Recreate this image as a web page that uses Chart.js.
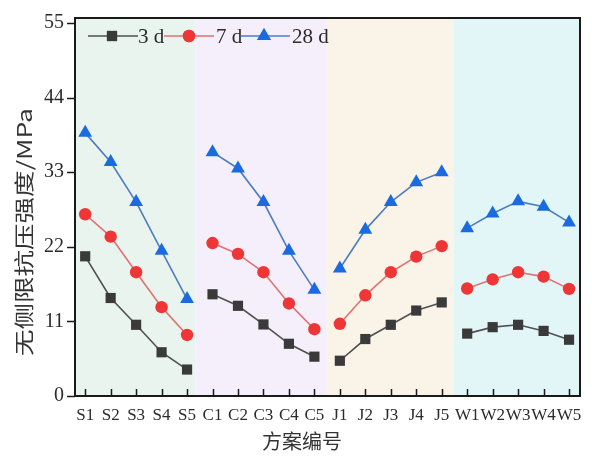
<!DOCTYPE html>
<html>
<head>
<meta charset="utf-8">
<script src="https://cdn.jsdelivr.net/npm/chart.js@4.4.1/dist/chart.umd.min.js"></script>
<style>
  html, body { margin: 0; padding: 0; background: #ffffff; }
  #wrap { width: 592px; height: 459px; position: relative; }
</style>
</head>
<body>
<div id="wrap"><canvas id="c" width="592" height="459"></canvas></div>
<script>
// ---- data ----
const categories = ['S1','S2','S3','S4','S5','C1','C2','C3','C4','C5','J1','J2','J3','J4','J5','W1','W2','W3','W4','W5'];
const groups = ['S','C','J','W'];
const seriesNames = ['3 d', '7 d', '28 d'];
const values3d  = [20.6, 14.45, 10.5, 6.45, 3.9,  15.0, 13.3, 10.55, 7.7, 5.8,  5.2, 8.4, 10.5, 12.6, 13.8,  9.2, 10.15, 10.5, 9.6, 8.3];
const values7d  = [26.8, 23.5, 18.25, 13.1, 9.0,  22.55, 20.95, 18.25, 13.65, 9.85,  10.65, 14.85, 18.25, 20.55, 22.1,  15.85, 17.2, 18.25, 17.6, 15.8];
const values28d = [38.8, 34.5, 28.6, 21.4, 14.3,  35.95, 33.55, 28.6, 21.4, 15.65,  18.8, 24.5, 28.6, 31.5, 33.0,  24.75, 26.9, 28.7, 27.9, 25.6];
const yTicks = [0, 11, 22, 33, 44, 55];
const xTitle = '方案编号';
const yTitle = '无侧限抗压强度/MPa';

// ---- styling ----
const PLOT = { left: 75, right: 580, top: 18, bottom: 396 };
const bandEdges = [-0.4, 4.32, 9.49, 14.46, 19.43];
const bandColors = ['rgb(234,244,238)', 'rgb(244,239,250)', 'rgb(250,243,231)', 'rgb(226,246,248)'];
const serif = '"Liberation Serif", "Times New Roman", serif';
const textColor = '#2b2b2b';

const styles = [
  { line: '#505050', point: '#3a3a3a', style: 'rect', r: 7.2 },
  { line: '#e07272', point: '#ee3636', style: 'circle', r: 6.2 },
  { line: '#4d7dc0', point: '#1a6be0', style: 'triangle', r: 8 }
];

function groupOf(i) { return groups.indexOf(categories[i][0]); }
function toPoints(arr) { return arr.map((v, i) => ({ x: i, y: v })); }

const datasets = [values3d, values7d, values28d].map((vals, k) => ({
  label: seriesNames[k],
  data: toPoints(vals),
  borderColor: styles[k].line,
  borderWidth: 1.6,
  backgroundColor: styles[k].point,
  pointBackgroundColor: styles[k].point,
  pointBorderColor: styles[k].point,
  pointBorderWidth: 0,
  pointStyle: styles[k].style,
  pointRadius: styles[k].r,
  pointHoverRadius: styles[k].r,
  tension: 0,
  segment: {
    borderColor: ctx => groupOf(ctx.p0DataIndex) === groupOf(ctx.p1DataIndex) ? styles[k].line : 'rgba(0,0,0,0)'
  }
}));

const decor = {
  id: 'decor',
  beforeDatasetsDraw(chart) {
    const { ctx, scales: { x } } = chart;
    ctx.save();
    for (let g = 0; g < bandColors.length; g++) {
      const x0 = Math.max(PLOT.left, x.getPixelForValue(bandEdges[g]));
      const x1 = Math.min(PLOT.right, x.getPixelForValue(bandEdges[g + 1]));
      ctx.fillStyle = bandColors[g];
      ctx.fillRect(x0, PLOT.top, x1 - x0, PLOT.bottom - PLOT.top);
    }
    ctx.restore();
  },
  afterDatasetsDraw(chart) {
    const { ctx, scales: { x, y } } = chart;
    ctx.save();
    // frame
    ctx.strokeStyle = '#1a1a1a';
    ctx.lineWidth = 2;
    ctx.strokeRect(PLOT.left, PLOT.top, PLOT.right - PLOT.left, PLOT.bottom - PLOT.top);
    // inward x ticks
    ctx.lineWidth = 1.5;
    ctx.beginPath();
    categories.forEach((c, i) => {
      const px = Math.round(x.getPixelForValue(i)) + 0.5;
      ctx.moveTo(px, PLOT.bottom);
      ctx.lineTo(px, PLOT.bottom - 7);
    });
    ctx.stroke();
    // outward y ticks
    ctx.beginPath();
    yTicks.forEach(t => {
      const py = Math.round(y.getPixelForValue(t)) + 0.5;
      ctx.moveTo(PLOT.left, py);
      ctx.lineTo(PLOT.left - 8, py);
    });
    ctx.stroke();

    // legend
    const ly = 36;
    const items = [
      { x0: 88, x1: 138, mx: 112, tx: 138 },
      { x0: 164, x1: 214, mx: 189, tx: 216 },
      { x0: 241, x1: 290, mx: 264, tx: 292 }
    ];
    ctx.font = '21px ' + serif;
    ctx.textBaseline = 'middle';
    ctx.textAlign = 'left';
    items.forEach((it, k) => {
      ctx.strokeStyle = styles[k].line;
      ctx.lineWidth = 1.6;
      ctx.beginPath();
      ctx.moveTo(it.x0, ly);
      ctx.lineTo(it.x1, ly);
      ctx.stroke();
      ctx.fillStyle = styles[k].point;
      Chart.helpers.drawPoint(ctx, { pointStyle: styles[k].style, radius: styles[k].r, borderWidth: 0, rotation: 0 }, it.mx, ly);
      ctx.fill();
      ctx.fillStyle = textColor;
      ctx.fillText(seriesNames[k], it.tx, ly + 1);
    });

    // axis titles
    ctx.fillStyle = '#333';
    ctx.font = '20px "Noto Sans CJK SC", sans-serif';
    ctx.textAlign = 'center';
    ctx.textBaseline = 'middle';
    ctx.fillText(xTitle, 302, 441);

    ctx.save();
    ctx.translate(24, 232);
    ctx.rotate(-Math.PI / 2);
    const w = ctx.measureText(yTitle).width;
    ctx.scale(248 / w, 1);
    ctx.fillText(yTitle, 0, 0);
    ctx.restore();

    ctx.restore();
  }
};

new Chart(document.getElementById('c'), {
  type: 'line',
  data: { datasets },
  options: {
    responsive: false,
    animation: false,
    devicePixelRatio: 1,
    layout: { padding: { left: 0, right: 592 - PLOT.right, top: PLOT.top, bottom: 0 } },
    plugins: { legend: { display: false }, tooltip: { enabled: false } },
    scales: {
      x: {
        type: 'linear',
        min: bandEdges[0],
        max: bandEdges[bandEdges.length - 1],
        afterBuildTicks: s => { s.ticks = categories.map((c, i) => ({ value: i })); },
        afterFit: s => { s.height = 459 - PLOT.bottom; },
        grid: { display: false, drawTicks: false },
        border: { display: false },
        ticks: {
          autoSkip: false,
          maxRotation: 0,
          padding: 9,
          color: textColor,
          font: { family: serif, size: 17 },
          callback: v => categories[v]
        }
      },
      y: {
        min: 0,
        max: 55,
        afterBuildTicks: s => { s.ticks = yTicks.map(v => ({ value: v })); },
        afterFit: s => { s.width = PLOT.left; },
        grid: { display: false, drawTicks: false },
        border: { display: false },
        ticks: {
          padding: 11,
          color: textColor,
          font: { family: serif, size: 20 }
        }
      }
    }
  },
  plugins: [decor]
});
</script>
</body>
</html>
